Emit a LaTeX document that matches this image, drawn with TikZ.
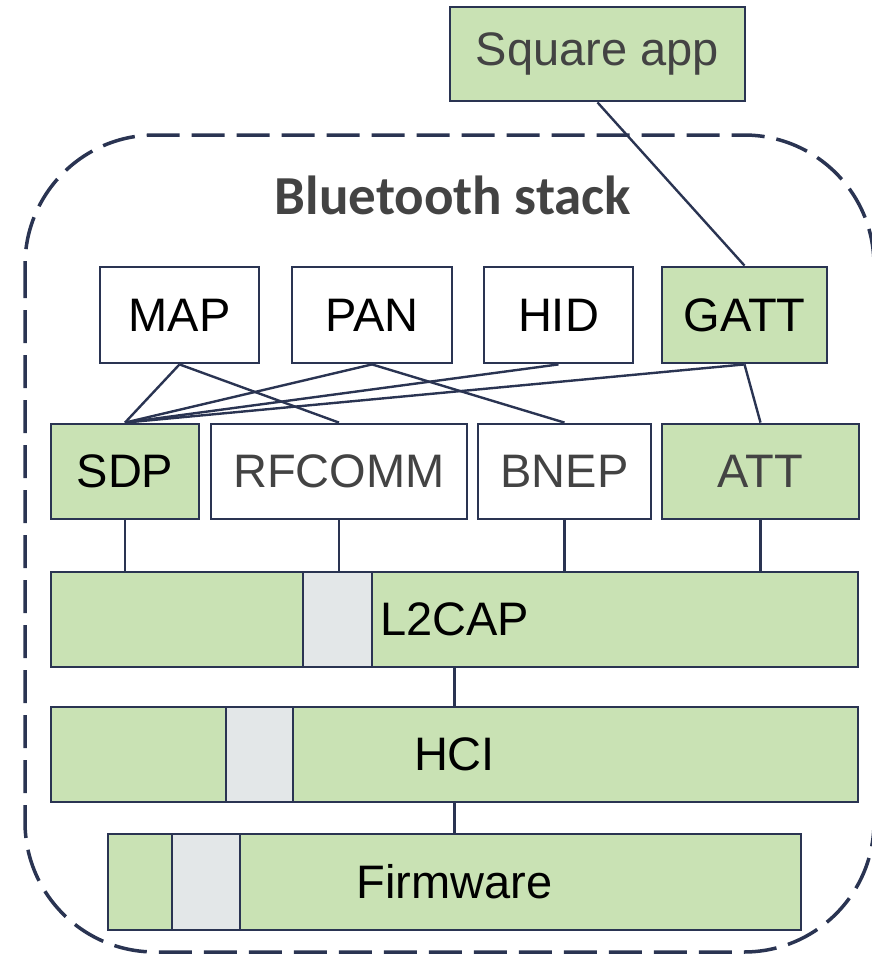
\documentclass[tikz,border=0pt]{standalone}
\usepackage{fontspec}
\setmainfont{Liberation Sans}
\newfontfamily\titlefont{Carlito}
\usepackage{xcolor}
\usepackage{tikz}
\usetikzlibrary{positioning, calc}

\definecolor{navy}{HTML}{2A3452}
\definecolor{leaf}{HTML}{C9E2B4}
\definecolor{slotgray}{HTML}{E3E7E8}
\definecolor{txtgray}{HTML}{434343}

\begin{document}
\begin{tikzpicture}[x=0.5pt, y=-0.5pt,
    block/.style={rectangle, draw=navy, line width=1.4pt, fill=white, inner sep=0pt, minimum height=48pt, font=\fontsize{23.5}{28}\selectfont},
    proto/.style={block, fill=leaf},
    layer/.style={block, fill=leaf, minimum width=403.5pt, minimum height=47.5pt},
    slot/.style={block, fill=slotgray, minimum height=47.5pt},
    link/.style={draw=navy, line width=1.2pt}
]
    \useasboundingbox (0,0) rectangle (872,954);

    % Stack outline
    \draw [navy, line width=1.75pt, dash pattern=on 16.5pt off 6pt, rounded corners=65pt] (25,135) rectangle (874,952);
    \node [font=\titlefont\bfseries\fontsize{27.5}{32}\selectfont, text=txtgray] (title) at (453,195) {Bluetooth stack};

    % Application
    \node [proto, minimum width=147.5pt, minimum height=47pt, text=txtgray] (app) at (597.5,54) {Square app};

    % Profiles
    \node [block, minimum width=79.5pt] (map) at (179.5,315) {MAP};
    \node [block, minimum width=80pt] (pan) at (372,315) {PAN};
    \node [block, minimum width=74.5pt] (hid) at (558.5,315) {HID};
    \node [proto, minimum width=82.5pt] (gatt) at (744.5,315) {GATT};

    % Protocols
    \node [proto, minimum width=74pt, minimum height=47.5pt] (sdp) at (125,471.5) {SDP};
    \node [block, minimum width=128pt, minimum height=47.5pt, text=txtgray] (rfcomm) at (339,471.5) {RFCOMM};
    \node [block, minimum width=86.5pt, minimum height=47.5pt, text=txtgray] (bnep) at (564.5,471.5) {BNEP};
    \node [proto, minimum width=98.5pt, minimum height=47.5pt, text=txtgray] (att) at (760.5,471.5) {ATT};

    % Lower layers
    \node [layer] (l2cap) at (454.5,619.5) {L2CAP};
    \node [slot, minimum width=34.5pt] (l2slot) at (337.5,619.5) {};
    \node [layer] (hci) at (454.5,754.5) {HCI};
    \node [slot, minimum width=33.5pt] (hcislot) at (259.5,754.5) {};
    \node [layer, minimum width=346.5pt, minimum height=48pt] (fw) at (454.5,882) {Firmware};
    \node [slot, minimum width=34pt, minimum height=48pt] (fwslot) at (206,882) {};

    % Connections
    \path [link] (app.south) -- (gatt.north);
    \path [link] (map.south) -- (sdp.north);
    \path [link] (map.south) -- (rfcomm.north);
    \path [link] (pan.south) -- (sdp.north);
    \path [link] (pan.south) -- (bnep.north);
    \path [link] (hid.south) -- (sdp.north);
    \path [link] (gatt.south) -- (sdp.north);
    \path [link] (gatt.south) -- (att.north);
    \path [link] (sdp.south) -- (sdp.south |- l2cap.north);
    \path [link] (rfcomm.south) -- (rfcomm.south |- l2cap.north);
    \path [link] (bnep.south) -- (bnep.south |- l2cap.north);
    \path [link] (att.south) -- (att.south |- l2cap.north);
    \path [link] (l2cap.south) -- (hci.north);
    \path [link] (hci.south) -- (fw.north);
\end{tikzpicture}
\end{document}
